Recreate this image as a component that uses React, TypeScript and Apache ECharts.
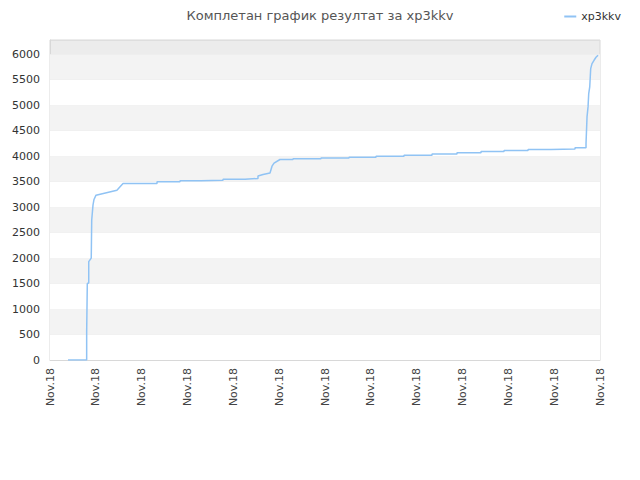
import {useEffect, useRef} from 'react';
import * as echarts from 'echarts';

// x positions in "tick units" (0..12, one per Nov.18 label), cumulative values
const xPos = [
    0.393, 0.8, 0.8, 0.814, 0.814, 0.845, 0.845, 0.9, 0.91, 0.938, 0.96, 1.004, 1.46, 1.593,
    2.335, 2.335, 2.837, 2.837, 3.295, 3.295, 3.775, 3.775, 4.255, 4.255, 4.538, 4.538,
    4.648, 4.8, 4.844, 4.888, 5.018, 5.302, 5.302, 5.913, 5.913, 6.524, 6.524, 7.113, 7.113,
    7.724, 7.724, 8.335, 8.335, 8.88, 8.88, 9.404, 9.404, 9.906, 9.906, 10.43, 10.43,
    10.931, 10.931, 11.455, 11.455, 11.695, 11.695, 11.717, 11.739, 11.754, 11.776, 11.797,
    11.826, 11.87, 11.913, 11.957,
];
const xpValues = [
    0, 0, 555, 560, 1500, 1510, 1930, 2000, 2745, 3040, 3150, 3235, 3333, 3464,
    3464, 3497, 3497, 3516, 3516, 3529, 3529, 3549, 3549, 3562, 3562, 3610,
    3641, 3670, 3804, 3863, 3935, 3935, 3950, 3950, 3965, 3965, 3980, 3980, 4000,
    4000, 4020, 4020, 4045, 4045, 4065, 4065, 4092, 4092, 4111, 4111, 4131,
    4131, 4143, 4143, 4163, 4163, 4248, 4771, 4967, 5229, 5359, 5719,
    5817, 5882, 5941, 5980,
];
const xTickLabel = 'Nov.18';
const seriesName = 'xp3kkv';
const titleText = 'Комплетан график резултат за xp3kkv';

const font = 'DejaVu Sans';

const App = () => {
    const chartRef = useRef<HTMLDivElement>(null);

    useEffect(() => {
        const myChart = echarts.init(chartRef.current!, null, {renderer: 'svg'});
        myChart.setOption({
            animation: false,
            title: {
                text: titleText,
                left: 'center',
                top: 4,
                textStyle: {fontFamily: font, fontSize: 13, fontWeight: 'normal', color: '#555'},
            },
            legend: {
                right: 14,
                top: 6,
                itemWidth: 12,
                itemHeight: 2,
                itemGap: 8,
                icon: 'rect',
                textStyle: {fontFamily: font, fontSize: 11, color: '#333'},
                data: [seriesName],
            },
            grid: {left: 50, right: 40, top: 40, bottom: 120, show: true, borderColor: '#d8d8d8', borderWidth: 1, backgroundColor: '#ececec'},
            xAxis: {
                type: 'value',
                min: 0,
                max: 12,
                interval: 1,
                axisLine: {show: true, lineStyle: {color: '#d8d8d8'}},
                axisTick: {show: false},
                splitLine: {show: false},
                axisLabel: {
                    rotate: 90,
                    fontFamily: font,
                    fontSize: 11,
                    color: '#444',
                    margin: 8,
                    formatter: () => xTickLabel,
                },
            },
            yAxis: {
                type: 'value',
                min: 0,
                max: 6280,
                interval: 500,
                axisLine: {show: true, lineStyle: {color: '#d8d8d8'}},
                axisTick: {show: false},
                axisLabel: {
                    fontFamily: font,
                    fontSize: 11,
                    color: '#333',
                    margin: 10,
                    showMaxLabel: false,
                    formatter: (v: number) => String(v),
                },
                splitLine: {lineStyle: {color: '#dedede'}},
                splitArea: {show: false},
            },
            series: [
                {
                    type: 'line',
                    name: 'bands',
                    silent: true,
                    data: [],
                    markArea: {
                        silent: true,
                        data: Array.from({length: 12}, (_, i) => [
                            {yAxis: i * 500, itemStyle: {color: i % 2 === 0 ? '#ffffff' : '#f3f3f3'}},
                            {yAxis: (i + 1) * 500},
                        ]),
                    },
                },
                {
                    type: 'line',
                    name: seriesName,
                    data: xPos.map((x, i) => [x, xpValues[i]]),
                    showSymbol: false,
                    lineStyle: {color: '#90c3f4', width: 1.5},
                    itemStyle: {color: '#90c3f4'},
                },
            ],
        });
        return () => {
            myChart.dispose();
        };
    }, []);

    return <div ref={chartRef} style={{width: 640, height: 480, margin: -8}} />;
};

export default App;
